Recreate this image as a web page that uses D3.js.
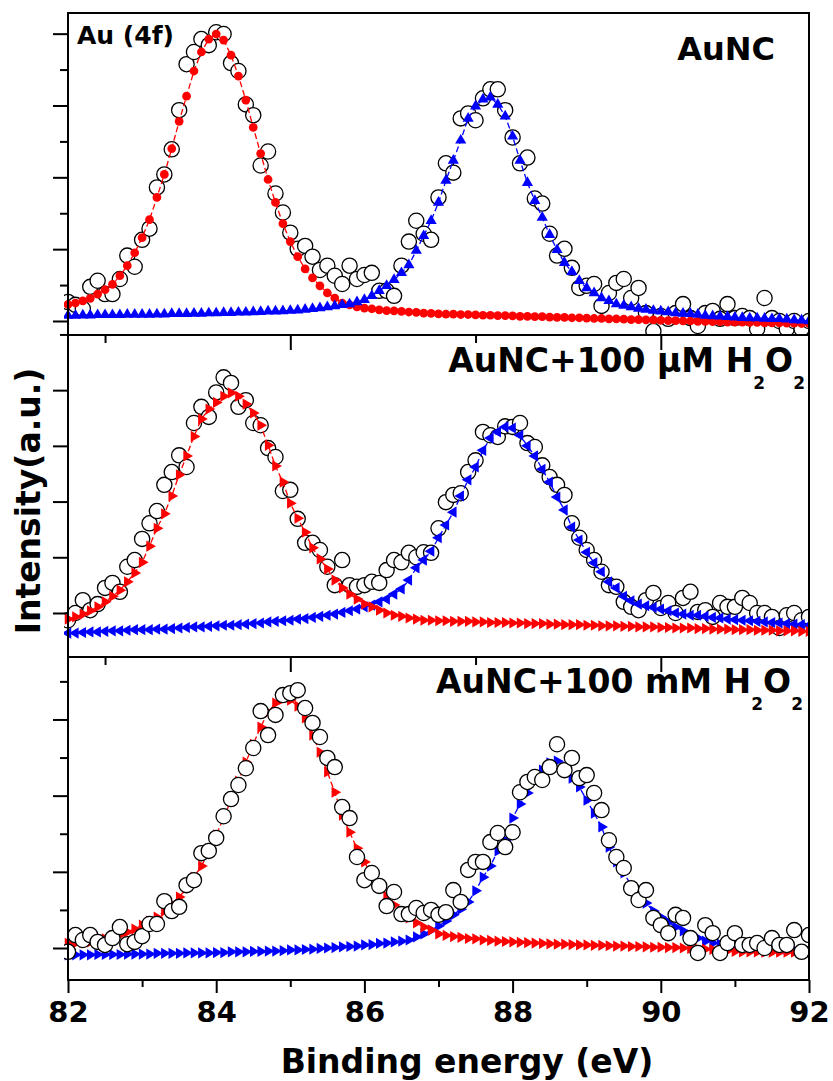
<!DOCTYPE html>
<html><head><meta charset="utf-8">
<script src="https://cdn.jsdelivr.net/npm/d3@7"></script>
<style>body{margin:0;background:#fff}</style>
</head><body>
<svg id="c" width="833" height="1081"></svg>
<script>
// Binding energy grid (eV)
const energy = [82.0,82.1,82.2,82.3,82.4,82.5,82.6,82.7,82.8,82.9,
83.0,83.1,83.2,83.3,83.4,83.5,83.6,83.7,83.8,83.9,
84.0,84.1,84.2,84.3,84.4,84.5,84.6,84.7,84.8,84.9,
85.0,85.1,85.2,85.3,85.4,85.5,85.6,85.7,85.8,85.9,
86.0,86.1,86.2,86.3,86.4,86.5,86.6,86.7,86.8,86.9,
87.0,87.1,87.2,87.3,87.4,87.5,87.6,87.7,87.8,87.9,
88.0,88.1,88.2,88.3,88.4,88.5,88.6,88.7,88.8,88.9,
89.0,89.1,89.2,89.3,89.4,89.5,89.6,89.7,89.8,89.9,
90.0,90.1,90.2,90.3,90.4,90.5,90.6,90.7,90.8,90.9,
91.0,91.1,91.2,91.3,91.4,91.5,91.6,91.7,91.8,91.9,92.0];

// Panel 1: AuNC
const topData = [5.3,4.5,3.4,9.5,11.2,7.5,7.5,11.7,18.2,15.1,
22.6,25.7,37.2,40.8,47.8,58.7,71.5,74.9,78.5,76.8,
80.4,79.9,71.8,69.6,60.3,57.3,43.3,47.2,35.5,30.2,
24.6,20.1,20.9,17.9,14.2,15.4,12.6,10.3,15.4,11.7,
12.8,13.4,8.4,8.4,7.0,15.4,22.1,27.9,24.3,22.6,
34.4,43.9,41.3,56.4,57.8,55.9,62.0,64.5,64.5,58.7,
51.1,43.9,45.5,34.1,32.7,24.3,18.2,20.1,14.8,9.2,
9.8,10.3,4.2,7.8,10.6,11.7,6.4,9.2,2.2,-2.8,
1.4,0.6,2.2,4.7,0.8,-1.4,2.2,2.8,0.6,4.7,
0.8,1.4,0.8,-2.2,6.4,0.8,0,-2.2,0,-2.2,0];
const topRed = [4.6,5.0,5.6,6.3,7.5,8.7,10.2,12.6,15.4,19.0,
23.2,28.2,34.4,40.8,48.0,55.6,62.6,69.6,74.9,78.5,
79.9,78.2,74.0,68.2,61.5,53.9,46.6,39.4,33.0,27.1,
22.1,17.9,14.5,12.0,9.8,7.8,6.4,5.0,4.5,3.9,
3.6,3.4,3.1,2.9,2.8,2.7,2.5,2.4,2.2,2.1,
2.0,1.9,1.9,1.8,1.8,1.7,1.6,1.6,1.5,1.5,
1.4,1.3,1.3,1.2,1.2,1.1,1.0,1.0,0.9,0.9,
0.8,0.7,0.7,0.6,0.6,0.5,0.4,0.4,0.3,0.3,
0.2,0.1,0.1,0.0,0.0,-0.1,-0.1,-0.2,-0.2,-0.3,
-0.3,-0.3,-0.4,-0.4,-0.5,-0.5,-0.5,-0.6,-0.6,-0.7,-0.7];
const topBlue = [1.5,1.5,1.6,1.6,1.7,1.7,1.7,1.7,1.8,1.8,
1.8,1.8,1.9,1.9,2.0,2.0,2.0,2.1,2.1,2.2,
2.2,2.3,2.3,2.4,2.4,2.5,2.6,2.7,2.7,2.8,
2.9,3.0,3.2,3.4,3.6,3.9,4.2,4.5,4.7,5.3,
5.9,7.0,8.4,9.8,11.5,13.4,15.6,19.6,23.7,27.9,
33.0,39.1,44.7,50.3,56.4,59.8,61.7,62.3,60.3,57.0,
51.4,44.7,38.5,33.5,28.8,24.0,19.8,16.2,13.7,11.2,
9.2,7.8,6.4,5.6,4.7,4.3,3.9,3.5,3.2,2.9,
2.7,2.5,2.2,2.1,2.0,1.8,1.5,1.4,1.3,1.2,
1.0,0.9,0.8,0.8,0.7,0.6,0.6,0.5,0.3,0.2,0.0];

// Panel 2: AuNC + 100 µM H2O2
const midData = [-1.3,0,2.3,0.5,1.6,4.5,5.4,3.8,8.3,9.5,
13.3,16.1,18.3,23.0,25.3,28.3,26.2,34.1,37.0,35.2,
39.6,42.3,41.3,37.0,38.2,34.1,33.7,29.6,28.0,21.9,
22.1,16.9,12.6,12.6,11.3,8.3,5.0,9.5,5.0,4.7,
5.0,5.6,5.4,7.7,9.5,9.1,10.8,10.0,10.9,10.8,
15.2,19.9,21.2,21.5,25.3,27.4,32.5,31.9,31.6,33.5,
33.4,34.1,30.5,29.8,26.5,24.4,23.0,21.2,16.1,13.5,
11.3,9.5,7.4,5.0,4.7,2.0,1.1,0.5,2.3,3.6,
0.9,1.8,0,2.7,3.8,0.2,0.5,-0.7,1.8,1.1,
1.1,2.7,1.8,0,0,-0.7,-2.7,-0.4,0,-1.3,-0.7];
const midRed = [-1.1,-0.7,-0.2,0.4,1.1,2.0,3.0,4.1,5.6,7.2,
9.1,12.0,15.2,17.8,21.0,24.8,28.2,31.7,34.8,36.6,
37.8,38.9,39.5,38.9,37.5,35.9,33.7,30.1,26.4,23.5,
19.7,17.0,14.5,11.7,9.7,7.9,5.9,4.5,3.4,2.5,
1.6,1.1,0.5,0,-0.4,-0.6,-0.9,-1.1,-1.3,-1.3,
-1.4,-1.4,-1.5,-1.5,-1.5,-1.6,-1.6,-1.7,-1.7,-1.7,
-1.8,-1.8,-1.9,-1.9,-1.9,-2.0,-2.0,-2.1,-2.1,-2.1,
-2.2,-2.2,-2.3,-2.3,-2.3,-2.4,-2.4,-2.5,-2.5,-2.5,
-2.6,-2.6,-2.7,-2.7,-2.7,-2.8,-2.8,-2.9,-2.9,-2.9,
-3.0,-3.0,-3.0,-3.1,-3.1,-3.1,-3.2,-3.2,-3.2,-3.3,-3.3];
const midBlue = [-3.6,-3.6,-3.5,-3.4,-3.4,-3.3,-3.2,-3.2,-3.1,-3.0,
-3.0,-3.0,-2.9,-2.9,-2.8,-2.7,-2.6,-2.5,-2.5,-2.4,
-2.3,-2.2,-2.2,-2.1,-2.0,-1.9,-1.8,-1.6,-1.5,-1.4,
-1.3,-1.1,-1.0,-0.8,-0.6,-0.4,-0.2,0.1,0.4,0.7,
1.1,1.4,2.0,2.5,3.4,4.3,5.9,8.1,9.5,11.1,
13.5,15.8,18.1,21.0,23.9,26.2,29.2,31.4,32.5,33.4,
33.2,31.9,30.0,28.2,25.8,23.5,20.8,18.5,15.4,13.1,
10.9,9.0,7.4,5.6,4.5,3.0,2.2,1.6,1.3,1.0,
0.7,0.4,0,-0.2,-0.4,-0.4,-0.6,-0.8,-0.9,-1.1,
-1.2,-1.3,-1.4,-1.5,-1.6,-1.7,-1.8,-1.9,-2.0,-2.1,-2.2];

// Panel 3: AuNC + 100 mM H2O2
const botData = [-1.0,3.4,2.1,3.4,1.6,0.8,2.6,5.5,1.0,1.6,
3.1,6.3,6.3,12.3,9.7,10.8,16.5,17.8,24.9,25.5,
28.9,34.6,39.1,42.8,47.2,52.5,62.2,55.9,61.2,66.4,
66.9,67.7,63.0,59.1,55.4,49.9,47.5,37.0,34.1,23.9,
17.8,19.7,16.3,11.0,14.7,8.9,8.9,10.5,9.2,10.0,
8.7,9.4,15.2,12.1,20.5,22.6,22.6,27.8,30.2,26.5,
30.4,40.9,43.6,44.9,44.1,47.5,53.5,46.7,49.9,44.6,
45.4,40.7,36.2,28.3,23.9,21.0,15.7,12.6,15.2,7.9,
6.0,3.9,8.7,7.9,2.6,-1.3,6.0,3.9,-1.3,1.3,
3.9,0.8,0.8,1.3,0,2.6,0.8,0.8,4.7,-1.0,3.4];
const botRed = [1.2,1.3,1.4,1.6,1.8,2.4,2.9,3.4,4.2,5.0,
6.0,7.1,8.1,9.7,11.5,13.4,15.7,18.6,21.5,25.2,
29.7,34.1,38.8,43.8,48.8,53.5,58.0,61.9,64.3,65.4,
65.1,63.5,60.4,55.9,51.4,46.2,40.9,34.9,30.4,26.2,
22.6,19.2,16.3,13.6,11.3,9.4,7.9,6.6,5.5,4.7,
3.7,3.3,3.0,2.8,2.5,2.4,2.1,2.0,1.8,1.7,
1.6,1.5,1.4,1.3,1.2,1.1,1.0,1.0,0.9,0.8,
0.8,0.7,0.7,0.6,0.5,0.5,0.4,0.4,0.3,0.2,
0.2,0.1,0.1,0.0,-0.1,-0.2,-0.3,-0.4,-0.6,-0.7,
-0.9,-1.0,-1.0,-1.0,-1.1,-1.1,-1.1,-1.1,-1.1,-1.1,-1.1];
const botBlue = [-1.8,-1.8,-1.8,-1.8,-1.7,-1.7,-1.7,-1.7,-1.6,-1.6,
-1.6,-1.6,-1.4,-1.4,-1.4,-1.4,-1.3,-1.3,-1.3,-1.3,
-1.2,-1.2,-1.0,-1.0,-1.0,-0.9,-0.9,-0.8,-0.8,-0.7,
-0.5,-0.5,-0.4,-0.3,-0.1,0,0.1,0.3,0.4,0.5,
0.8,0.9,1.2,1.3,1.6,1.8,2.1,2.9,3.7,4.7,
5.8,7.1,8.7,10.2,12.1,15.0,18.6,21.5,25.5,28.3,
34.1,37.8,40.7,44.1,46.7,48.6,49.1,47.8,44.6,42.3,
38.8,35.4,31.8,26.5,22.6,19.7,16.5,13.9,11.8,9.7,
8.1,6.8,5.5,4.5,3.4,2.6,1.8,1.3,1.0,0.8,
0.5,0.4,0.3,0.1,0,-0.1,-0.3,-0.4,-0.5,-0.7,-0.8];

// Tick values and labels
const xMajorTicks = [82,84,86,88,90,92];
const xMinorTicks = [83,85,87,89,91];
const xTopMajor = [85,90];
const xTopMinor = [82.5,87.5];
const panelLabels = ["AuNC", "AuNC+100 µM H", "AuNC+100 mM H"];
const xTitle = "Binding energy (eV)";
const yTitle = "Intensity(a.u.)";

const FONT = "'DejaVu Sans', sans-serif";
const RED = "#ff0000", BLUE = "#0000ff";
const svg = d3.select("#c");
const L = 68, R = 809;
const x = d3.scaleLinear().domain([82, 92]).range([L, R]);

const panels = [
  {top: 13, bottom: 335, domain: [-3.9, 85.75], major: [0,20,40,60,80], minor: [10,30,50,70],
   data: topData, red: topRed, blue: topBlue, redSym: "dot", blueSym: "up", circlesOnTop: false, topTicks: false},
  {top: 335, bottom: 657, domain: [-7.9, 49.9], major: [0,10,20,30,40], minor: [50],
   data: midData, red: midRed, blue: midBlue, redSym: "right", blueSym: "left", circlesOnTop: false, topTicks: true},
  {top: 657, bottom: 980, domain: [-8.4, 76.4], major: [0,20,40,60], minor: [10,30,50,70],
   data: botData, red: botRed, blue: botBlue, redSym: "right", blueSym: "right", circlesOnTop: true, topTicks: true}
];

function symPath(kind) {
  if (kind === "dot") return d3.symbol().type(d3.symbolCircle).size(60)();
  return d3.symbol().type(d3.symbolTriangle).size(54)();
}
function symRot(kind) {
  return kind === "right" ? 90 : kind === "left" ? -90 : 0;
}

panels.forEach((p, pi) => {
  const y = d3.scaleLinear().domain(p.domain).range([p.bottom, p.top]);
  const g = svg.append("g");
  const clipId = "clip" + pi;
  svg.append("clipPath").attr("id", clipId).append("rect")
    .attr("x", L - 4).attr("y", p.top).attr("width", R - L + 4).attr("height", p.bottom - p.top);
  const plot = g.append("g").attr("clip-path", `url(#${clipId})`);

  const drawCircles = () => {
    plot.append("g").selectAll("circle").data(p.data).join("circle")
      .attr("cx", (d, i) => x(energy[i])).attr("cy", d => y(d)).attr("r", 7.6)
      .attr("fill", "#fff").attr("stroke", "#000").attr("stroke-width", 1.3);
  };
  const drawFit = (vals, color, kind) => {
    const line = d3.line().x((d, i) => x(energy[i])).y(d => y(d));
    plot.append("path").attr("d", line(vals)).attr("fill", "none")
      .attr("stroke", color).attr("stroke-width", 1.3).attr("stroke-dasharray", "6,3");
    const path = symPath(kind), rot = symRot(kind);
    plot.append("g").selectAll("path").data(vals).join("path")
      .attr("d", path).attr("fill", color)
      .attr("transform", (d, i) => `translate(${x(energy[i])},${y(d)}) rotate(${rot})`);
  };

  if (!p.circlesOnTop) drawCircles();
  if (pi === 0) { drawFit(p.red, RED, p.redSym); drawFit(p.blue, BLUE, p.blueSym); }
  else { drawFit(p.blue, BLUE, p.blueSym); drawFit(p.red, RED, p.redSym); }
  if (p.circlesOnTop) drawCircles();

  // Y axis ticks
  const yMaj = g.append("g").attr("transform", `translate(${L},0)`)
    .call(d3.axisLeft(y).tickValues(p.major).tickSize(15).tickFormat(""));
  const yMin = g.append("g").attr("transform", `translate(${L},0)`)
    .call(d3.axisLeft(y).tickValues(p.minor).tickSize(8).tickFormat(""));
  [yMaj, yMin].forEach(a => { a.select(".domain").remove(); a.selectAll("line").attr("stroke-width", 2); });

  if (p.topTicks) {
    const tM = g.append("g").attr("transform", `translate(0,${p.top})`)
      .call(d3.axisTop(x).tickValues(xTopMajor).tickSize(-15).tickFormat(""));
    const tm = g.append("g").attr("transform", `translate(0,${p.top})`)
      .call(d3.axisTop(x).tickValues(xTopMinor).tickSize(-8).tickFormat(""));
    [tM, tm].forEach(a => { a.select(".domain").remove(); a.selectAll("line").attr("stroke-width", 2); });
  }

  // frame
  g.append("rect").attr("x", L).attr("y", p.top).attr("width", R - L).attr("height", p.bottom - p.top)
    .attr("fill", "none").attr("stroke", "#000").attr("stroke-width", 2);
});

// Bottom x axis
const xa = svg.append("g").attr("transform", `translate(0,980)`)
  .call(d3.axisBottom(x).tickValues(xMajorTicks).tickSize(13).tickPadding(8).tickFormat(d3.format("d")));
xa.select(".domain").remove();
xa.selectAll("line").attr("stroke-width", 2);
xa.selectAll("text").attr("font-family", FONT).attr("font-weight", "bold").attr("font-size", 29).attr("fill", "#000");
const xm = svg.append("g").attr("transform", `translate(0,980)`)
  .call(d3.axisBottom(x).tickValues(xMinorTicks).tickSize(7).tickFormat(""));
xm.select(".domain").remove();
xm.selectAll("line").attr("stroke-width", 2);

// Titles
svg.append("text").attr("x", 467).attr("y", 1073).attr("text-anchor", "middle")
  .attr("font-family", FONT).attr("font-weight", "bold").attr("font-size", 33).text(xTitle);
svg.append("text").attr("transform", "translate(40,501) rotate(-90)").attr("text-anchor", "middle")
  .attr("font-family", FONT).attr("font-weight", "bold").attr("font-size", 33).text(yTitle);

// Panel labels
svg.append("text").attr("x", 77).attr("y", 44)
  .attr("font-family", FONT).attr("font-weight", "bold").attr("font-size", 25).text("Au (4f)");
svg.append("text").attr("x", 775).attr("y", 60).attr("text-anchor", "end")
  .attr("font-family", FONT).attr("font-weight", "bold").attr("font-size", 32).text(panelLabels[0]);

function h2o2Label(txt, xEnd, yBase) {
  const t = svg.append("text").attr("x", xEnd).attr("y", yBase).attr("text-anchor", "end")
    .attr("font-family", FONT).attr("font-weight", "bold").attr("font-size", 33);
  t.append("tspan").text(txt);
  t.append("tspan").attr("font-size", 17).attr("dy", 17).text("2");
  t.append("tspan").attr("dy", -17).text("O");
  t.append("tspan").attr("font-size", 17).attr("dy", 17).text("2");
}
h2o2Label(panelLabels[1], 805, 372);
h2o2Label(panelLabels[2], 803, 693);
</script>
</body></html>
